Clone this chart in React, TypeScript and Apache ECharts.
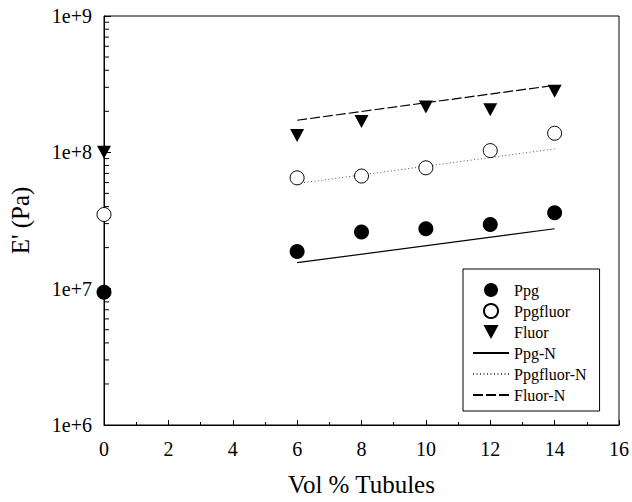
import React, { useEffect, useRef } from "react";
import * as echarts from "echarts";

// ---- data ----
const ppgX = [0, 6, 8, 10, 12, 14];
const ppgY = [9.4e6, 1.87e7, 2.6e7, 2.75e7, 2.95e7, 3.6e7];
const ppgfluorX = [0, 6, 8, 10, 12, 14];
const ppgfluorY = [3.5e7, 6.5e7, 6.7e7, 7.7e7, 1.03e8, 1.38e8];
const fluorX = [0, 6, 8, 10, 12, 14];
const fluorY = [1.0e8, 1.33e8, 1.68e8, 2.15e8, 2.05e8, 2.8e8];

const lineX = [6, 14];
const ppgNY = [1.55e7, 2.75e7];
const ppgfluorNY = [5.9e7, 1.06e8];
const fluorNY = [1.72e8, 3.1e8];

const xTicks = [0, 2, 4, 6, 8, 10, 12, 14, 16];
const yDecades = [6, 7, 8];
const yMinorMultipliers = [2, 3, 4, 5, 6, 7, 8, 9];

const FONT = "Liberation Serif";
const DOWN_TRIANGLE = "path://M0,0 L14,0 L7,13 Z";

const zip = (xs: number[], ys: number[]) => xs.map((x, i) => [x, ys[i]]);

export default function App() {
  const ref = useRef<HTMLDivElement>(null);
  useEffect(() => {
    if (!ref.current) return;
    const chart = echarts.init(ref.current, undefined, { renderer: "svg" });
    const minorY: number[][] = [];
    yDecades.forEach((d) =>
      yMinorMultipliers.forEach((m) => minorY.push([0, m * Math.pow(10, d)]))
    );
    const hideSym = { opacity: 0, color: "transparent", borderWidth: 0 };
    chart.setOption({
      animation: false,
      backgroundColor: "#fff",
      grid: {
        left: 100,
        right: 12,
        top: 16,
        bottom: 76,
        show: true,
        borderColor: "#000",
        borderWidth: 1,
        backgroundColor: "transparent",
      },
      xAxis: {
        type: "value",
        min: xTicks[0],
        max: xTicks[xTicks.length - 1],
        interval: 2,
        name: "Vol % Tubules",
        nameLocation: "middle",
        nameGap: 47,
        nameTextStyle: { fontFamily: FONT, fontSize: 25, color: "#000" },
        axisLine: { lineStyle: { color: "#000", width: 1 } },
        axisTick: { inside: true, length: 5, lineStyle: { color: "#000" } },
        minorTick: { show: true, splitNumber: 2, length: 3, lineStyle: { color: "#000" } },
        splitLine: { show: false },
        axisLabel: { fontFamily: FONT, fontSize: 20, color: "#000", margin: 14 },
      },
      yAxis: {
        type: "log",
        logBase: 10,
        min: 1e6,
        max: 1e9,
        splitNumber: 3,
        name: "E' (Pa)",
        nameLocation: "middle",
        nameGap: 71,
        nameTextStyle: { fontFamily: FONT, fontSize: 25, color: "#000" },
        axisLine: { lineStyle: { color: "#000", width: 1 } },
        axisTick: { inside: true, length: 7, lineStyle: { color: "#000" } },
        splitLine: { show: false },
        axisLabel: {
          fontFamily: FONT,
          fontSize: 20,
          color: "#000",
          margin: 12,
          formatter: (v: number) => "1e+" + Math.round(Math.log10(v)),
        },
      },
      legend: {
        orient: "vertical",
        left: 463,
        top: 269,
        padding: [13, 13, 8, 9],
        itemWidth: 36,
        itemHeight: 14,
        itemGap: 5,
        borderColor: "#000",
        borderWidth: 1,
        backgroundColor: "#fff",
        textStyle: { fontFamily: FONT, fontSize: 16, color: "#000" },
        data: [
          { name: "Ppg" },
          { name: "Ppgfluor" },
          { name: "Fluor" },
          { name: "Ppg-N", itemStyle: hideSym },
          { name: "Ppgfluor-N", itemStyle: hideSym },
          { name: "Fluor-N", itemStyle: hideSym },
        ],
        z: 10,
      },
      series: [
        {
          type: "custom",
          name: "minorY",
          coordinateSystem: "cartesian2d",
          encode: { x: 0, y: 1 },
          silent: true,
          clip: false,
          renderItem: (params: any, api: any) => {
            const p = api.coord([api.value(0), api.value(1)]);
            return {
              type: "line",
              shape: { x1: p[0], y1: p[1], x2: p[0] + 5, y2: p[1] },
              style: { stroke: "#000", lineWidth: 1 },
            };
          },
          data: minorY,
          z: 1,
        },
        {
          name: "Ppg-N",
          type: "line",
          data: zip(lineX, ppgNY),
          symbol: "none",
          lineStyle: { color: "#000", width: 1.2, type: "solid" },
          itemStyle: { color: "#000" },
        },
        {
          name: "Ppgfluor-N",
          type: "line",
          data: zip(lineX, ppgfluorNY),
          symbol: "none",
          lineStyle: { color: "#555", width: 1, type: [1, 2.5] },
          itemStyle: { color: "#555" },
        },
        {
          name: "Fluor-N",
          type: "line",
          data: zip(lineX, fluorNY),
          symbol: "none",
          lineStyle: { color: "#000", width: 1.2, type: [10, 3] },
          itemStyle: { color: "#000" },
        },
        {
          name: "Ppg",
          type: "scatter",
          clip: false,
          data: zip(ppgX, ppgY),
          symbol: "circle",
          symbolSize: 15,
          itemStyle: { color: "#000", opacity: 1 },
          z: 3,
        },
        {
          name: "Ppgfluor",
          type: "scatter",
          clip: false,
          data: zip(ppgfluorX, ppgfluorY),
          symbol: "circle",
          symbolSize: 14,
          itemStyle: { color: "#fff", borderColor: "#000", borderWidth: 1, opacity: 1 },
          z: 3,
        },
        {
          name: "Fluor",
          type: "scatter",
          clip: false,
          data: zip(fluorX, fluorY),
          symbol: DOWN_TRIANGLE,
          symbolSize: [14, 13],
          itemStyle: { color: "#000", opacity: 1 },
          z: 3,
        },
      ],
    });
    return () => chart.dispose();
  }, []);
  return (
    <div
      ref={ref}
      style={{ position: "fixed", left: 0, top: 0, width: 632, height: 502, background: "#fff" }}
    />
  );
}
